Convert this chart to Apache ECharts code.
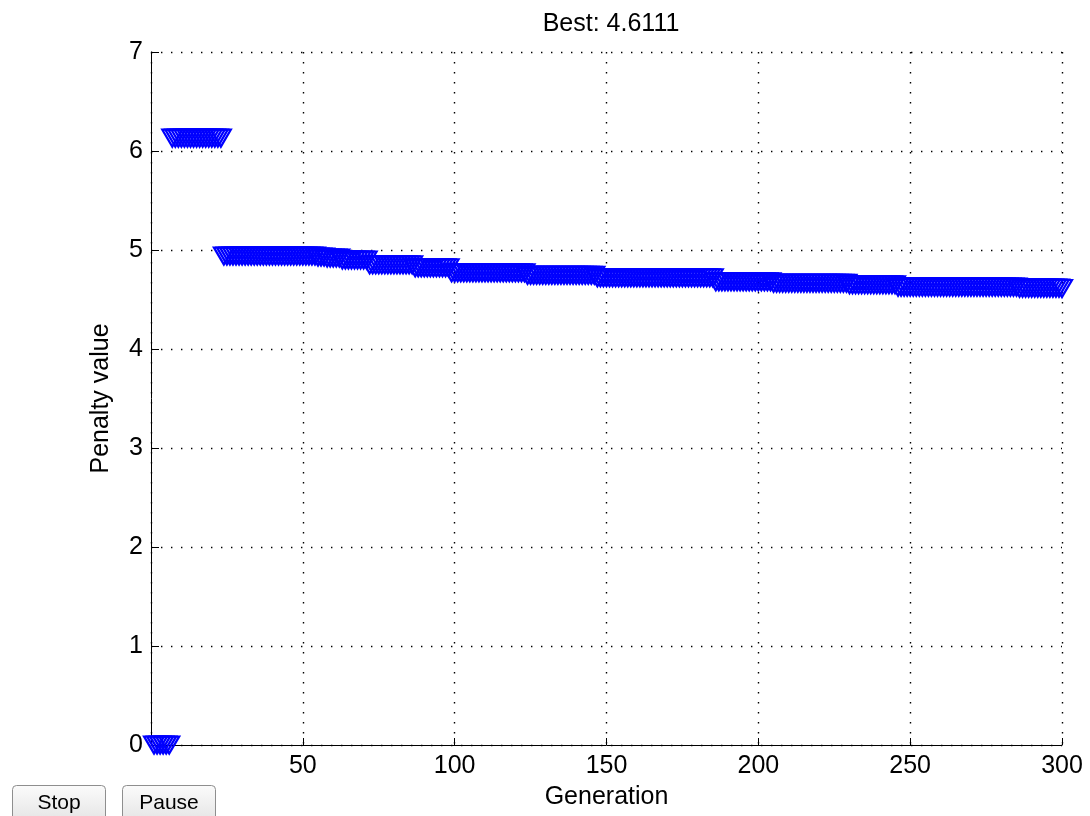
<!DOCTYPE html>
<html>
<head>
<meta charset="utf-8">
<script src="https://cdn.jsdelivr.net/npm/echarts@6/dist/echarts.min.js"></script>
<style>
html,body{margin:0;padding:0;background:#fff;}
#chart{width:1090px;height:816px;}
</style>
</head>
<body>
<div id="chart"></div>
<script>
// Penalty value of the best individual, one entry per generation (1..300)
var penalty = [
  0,0,0,0,0,0,6.13,6.13,6.13,6.13,
  6.13,6.13,6.13,6.13,6.13,6.13,6.13,6.13,6.13,6.13,
  6.13,6.13,6.13,4.94,4.94,4.94,4.94,4.94,4.94,4.94,
  4.94,4.94,4.94,4.94,4.94,4.94,4.94,4.94,4.94,4.94,
  4.94,4.94,4.94,4.94,4.94,4.94,4.94,4.94,4.94,4.94,
  4.94,4.94,4.94,4.94,4.93,4.93,4.93,4.92,4.92,4.92,
  4.92,4.92,4.90,4.90,4.90,4.90,4.90,4.90,4.90,4.90,
  4.90,4.85,4.85,4.85,4.85,4.85,4.85,4.85,4.85,4.85,
  4.85,4.85,4.85,4.85,4.85,4.85,4.82,4.82,4.82,4.82,
  4.82,4.82,4.82,4.82,4.82,4.82,4.82,4.82,4.77,4.77,
  4.77,4.77,4.77,4.77,4.77,4.77,4.77,4.77,4.77,4.77,
  4.77,4.77,4.77,4.77,4.77,4.77,4.77,4.77,4.77,4.77,
  4.77,4.77,4.77,4.745,4.745,4.745,4.745,4.745,4.745,4.745,
  4.745,4.745,4.745,4.745,4.745,4.745,4.745,4.745,4.745,4.745,
  4.745,4.745,4.745,4.745,4.745,4.745,4.72,4.72,4.72,4.72,
  4.72,4.72,4.72,4.72,4.72,4.72,4.72,4.72,4.72,4.72,
  4.72,4.72,4.72,4.72,4.72,4.72,4.72,4.72,4.72,4.72,
  4.72,4.72,4.72,4.72,4.72,4.72,4.72,4.72,4.72,4.72,
  4.72,4.72,4.72,4.72,4.72,4.68,4.68,4.68,4.68,4.68,
  4.68,4.68,4.68,4.68,4.68,4.68,4.68,4.68,4.68,4.68,
  4.68,4.68,4.68,4.68,4.665,4.665,4.665,4.665,4.665,4.665,
  4.665,4.665,4.665,4.665,4.665,4.665,4.665,4.665,4.665,4.665,
  4.665,4.665,4.665,4.665,4.665,4.665,4.665,4.665,4.665,4.65,
  4.65,4.65,4.65,4.65,4.65,4.65,4.65,4.65,4.65,4.65,
  4.65,4.65,4.65,4.65,4.65,4.625,4.625,4.625,4.625,4.625,
  4.625,4.625,4.625,4.625,4.625,4.625,4.625,4.625,4.625,4.625,
  4.625,4.625,4.625,4.625,4.625,4.625,4.625,4.625,4.625,4.625,
  4.625,4.625,4.625,4.625,4.625,4.625,4.625,4.625,4.625,4.625,
  4.625,4.625,4.625,4.625,4.625,4.615,4.615,4.615,4.615,4.615,
  4.615,4.615,4.615,4.615,4.615,4.615,4.615,4.615,4.615,4.6111
];
var bestLabel = 'Best: 4.6111';
var xName = 'Generation';
var yName = 'Penalty value';
var buttonLabels = ['Stop', 'Pause'];

var FONT = 'Liberation Sans, Arial, Helvetica, sans-serif';
var points = penalty.map(function (v, i) { return [i + 1, v]; });

var chart = echarts.init(document.getElementById('chart'), null, {renderer: 'canvas'});

function button(x, label) {
  return {
    type: 'group', left: x, top: 785,
    children: [
      {type: 'rect', shape: {x: 0, y: 0, width: 93, height: 40, r: 4},
       style: {fill: new echarts.graphic.LinearGradient(0, 0, 0, 1, [
         {offset: 0, color: '#fbfbfb'}, {offset: 1, color: '#e2e2e2'}]),
         stroke: '#8e8e8e', lineWidth: 1}},
      {type: 'text', x: 46.5, y: 18,
       style: {text: label, fill: '#000', font: '21px ' + FONT,
               align: 'center', verticalAlign: 'middle'}}
    ]
  };
}

var dotted = {color: '#000', width: 1.4, type: [1.4, 8.6]};

chart.setOption({
  animation: false,
  backgroundColor: '#fff',
  title: {
    text: bestLabel, left: 606, top: 7, textAlign: 'center',
    textStyle: {fontFamily: FONT, fontSize: 25, fontWeight: 'normal', color: '#000'}
  },
  grid: {left: 151, right: 28, top: 52, bottom: 71, containLabel: false},
  xAxis: {
    type: 'value', min: 0, max: 300, interval: 50,
    name: xName, nameLocation: 'middle', nameGap: 40,
    nameTextStyle: {fontFamily: FONT, fontSize: 25, color: '#000'},
    axisLine: {show: true, onZero: false, lineStyle: {color: '#000', width: 1}},
    axisTick: {show: true, inside: true, length: 7, lineStyle: {color: '#000'}},
    axisLabel: {fontFamily: FONT, fontSize: 25, color: '#000', margin: 9,
      formatter: function (v) { return v === 0 ? '' : String(v); }},
    splitLine: {show: true, lineStyle: dotted}
  },
  yAxis: {
    type: 'value', min: 0, max: 7, interval: 1,
    name: yName, nameLocation: 'middle', nameGap: 37,
    nameTextStyle: {fontFamily: FONT, fontSize: 25, color: '#000'},
    axisLine: {show: true, onZero: false, lineStyle: {color: '#000', width: 1}},
    axisTick: {show: true, inside: true, length: 8, lineStyle: {color: '#000'}},
    axisLabel: {fontFamily: FONT, fontSize: 25, color: '#000', margin: 8},
    splitLine: {show: true, lineStyle: dotted}
  },
  series: [{
    type: 'scatter',
    data: points,
    symbol: 'triangle',
    symbolRotate: 180,
    symbolSize: [20, 17],
    clip: false,
    itemStyle: {color: 'rgba(0,0,0,0)', borderColor: '#0000ff', borderWidth: 2.2, opacity: 1},
    emphasis: {disabled: true},
    z: 5
  }],
  graphic: [button(12, buttonLabels[0]), button(122, buttonLabels[1])]
});
</script>
</body>
</html>
